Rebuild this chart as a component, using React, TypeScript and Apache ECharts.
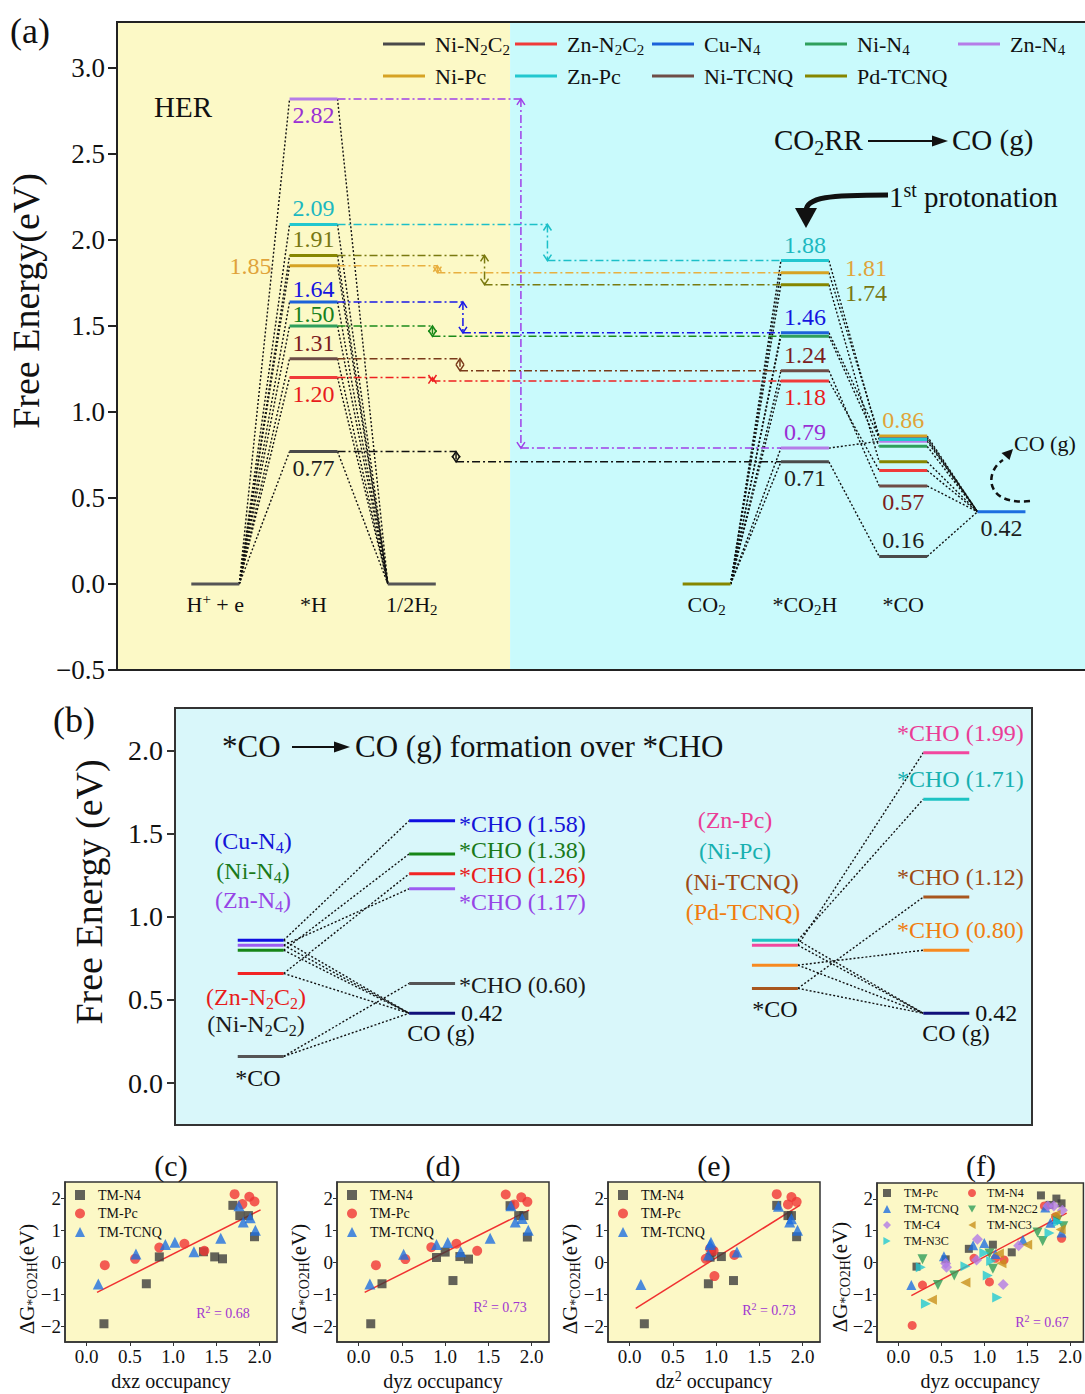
import React, { useEffect, useRef } from 'react';
import * as echarts from 'echarts';

const FONT = '"Liberation Serif", "Times New Roman", serif';

/* ---------------- Panel (a): free energy levels ---------------- */
const materials = ['Ni-N2C2', 'Zn-N2C2', 'Cu-N4', 'Ni-N4', 'Zn-N4', 'Ni-Pc', 'Zn-Pc', 'Ni-TCNQ', 'Pd-TCNQ'];
const herSteps = ['H+ + e', '*H', '1/2H2'];
const herStepX = [0, 1, 2];
const co2rrSteps = ['CO2', '*CO2H', '*CO'];
const co2rrStepX = [5, 6, 7];
const coGasStepX = 8;
const dG_H = [0.77, 1.2, 1.64, 1.5, 2.82, 1.85, 2.09, 1.31, 1.91];
const dG_COOH = [0.71, 1.18, 1.46, 1.44, 0.79, 1.81, 1.88, 1.24, 1.74];
const dG_CO = [0.16, 0.66, 0.85, 0.8, 0.83, 0.86, 0.84, 0.57, 0.71];
const dG_COgas = 0.42;
const yTicksA = [-0.5, 0, 0.5, 1, 1.5, 2, 2.5, 3];

/* ---------------- Panel (b): *CO -> CO(g) vs *CHO ---------------- */
const bLeftNames = ['Cu-N4', 'Ni-N4', 'Zn-N4', 'Zn-N2C2', 'Ni-N2C2'];
const bLeftCO = [0.86, 0.8, 0.83, 0.66, 0.16];
const bLeftCHO = [1.58, 1.38, 1.17, 1.26, 0.6];
const bRightNames = ['Zn-Pc', 'Ni-Pc', 'Ni-TCNQ', 'Pd-TCNQ'];
const bRightCO = [0.83, 0.86, 0.57, 0.71];
const bRightCHO = [1.99, 1.71, 1.12, 0.8];
const bStepX = [1, 2, 4, 5];
const bCOgas = 0.42;
const yTicksB = [0, 0.5, 1, 1.5, 2];

/* ---------------- Panels (c)-(f): scatter ---------------- */
const occTicks = [0, 0.5, 1, 1.5, 2];
const dgTicks = [-2, -1, 0, 1, 2];
const c_N4 = [[0.2, -1.93], [0.69, -0.68], [0.84, 0.16], [1.35, 0.32], [1.48, 0.16], [1.57, 0.1], [1.69, 1.77], [1.77, 1.45], [1.87, 1.45], [1.94, 0.79]];
const c_Pc = [[0.21, -0.1], [0.56, 0.1], [0.84, 0.45], [1.13, 0.57], [1.36, 0.35], [1.71, 2.12], [1.8, 1.81], [1.88, 2.04], [1.94, 1.89]];
const c_TCNQ = [[0.135, -0.69], [0.57, 0.25], [0.91, 0.55], [1.02, 0.62], [1.24, 0.32], [1.55, 0.74], [1.76, 1.76], [1.81, 1.25], [1.89, 1.38], [1.95, 0.99]];
const c_fit = [[0.12, -0.95], [2.01, 1.63]];
const c_R2 = '0.68';

const d_N4 = [[0.14, -1.93], [0.27, -0.68], [0.9, 0.14], [1.0, 0.31], [1.09, -0.58], [1.17, 0.17], [1.27, 0.09], [1.75, 1.76], [1.85, 1.45], [1.91, 1.45], [1.95, 0.78]];
const d_Pc = [[0.2, -0.1], [0.54, 0.09], [0.84, 0.46], [1.13, 0.57], [1.37, 0.35], [1.7, 2.11], [1.8, 1.8], [1.88, 2.02], [1.95, 1.88]];
const d_TCNQ = [[0.13, -0.69], [0.52, 0.24], [0.9, 0.55], [1.03, 0.61], [1.18, 0.32], [1.52, 0.74], [1.76, 1.76], [1.81, 1.25], [1.89, 1.36], [1.96, 0.99]];
const d_fit = [[0.07, -0.95], [1.97, 1.62]];
const d_R2 = '0.73';

const e_N4 = [[0.17, -1.93], [0.91, -0.68], [0.93, 0.15], [0.95, 0.31], [1.06, 0.17], [1.2, -0.58], [1.7, 1.77], [1.83, 1.45], [1.87, 1.45], [1.93, 0.79]];
const e_Pc = [[0.88, 0.1], [0.93, 0.42], [0.97, 0.35], [0.98, -0.44], [1.21, 0.22], [1.7, 2.12], [1.83, 1.8], [1.87, 2.03], [1.93, 1.88]];
const e_TCNQ = [[0.13, -0.7], [0.91, 0.22], [0.93, 0.55], [0.94, 0.62], [1.24, 0.31], [1.72, 1.74], [1.85, 1.25], [1.87, 1.35], [1.94, 0.99]];
const e_fit = [[0.07, -1.45], [1.97, 1.78]];
const e_R2 = '0.73';

const f_Pc = [[0.21, -0.13], [0.55, 0.1], [0.82, 0.43], [1.1, 0.56], [1.32, 0.32], [1.66, 2.11], [1.76, 1.81], [1.84, 2.01], [1.9, 1.86]];
const f_N4 = [[0.16, -1.98], [0.28, -0.71], [0.88, 0.13], [1.06, -0.61], [1.13, 0.13], [1.23, 0.08], [1.7, 1.78], [1.83, 1.44], [1.9, 0.76]];
const f_TCNQ = [[0.15, -0.71], [0.53, 0.2], [0.87, 0.54], [1.0, 0.61], [1.13, 0.27], [1.45, 0.71], [1.71, 1.73], [1.77, 1.25], [1.84, 1.37], [1.9, 0.94]];
const f_N2C2 = [[0.28, 0.1], [0.46, -0.71], [0.65, -0.41], [1.06, 0.28], [1.1, -0.2], [1.62, 0.94], [1.68, 0.68], [1.85, 1.32], [1.92, 1.14]];
const f_C4 = [[0.55, -0.03], [0.56, -0.15], [0.92, 0.73], [0.91, 0.08], [1.22, -0.69], [1.4, 0.53], [1.74, 1.78], [1.81, 1.78], [1.91, 1.64]];
const f_NC3 = [[0.39, -1.17], [0.78, -0.63], [1.17, 0.28], [1.2, -0.02], [1.5, 0.56], [1.83, 1.5], [1.89, 1.04]];
const f_N3C = [[0.26, -0.15], [0.32, -1.3], [0.78, -0.12], [1.0, 0.3], [1.04, -0.41], [1.08, 0.05], [1.15, -1.1], [1.76, 0.93], [1.86, 1.27]];
const f_fit = [[0.15, -1.04], [1.96, 1.55]];
const f_R2 = '0.67';

/* ---------------- styles ---------------- */
const colA = ['#4a4a4a', '#f03a3a', '#1c62da', '#2f9f5c', '#b57ce8', '#d6a324', '#22c7cf', '#6e4d47', '#868600'];
const txtA = ['#1e1e1e', '#e81c1c', '#1515e0', '#18801c', '#9a30d4', '#e0a33a', '#1cb8c0', '#7c1e1e', '#777712'];
const guideCol = ['#111111', '#ee2020', '#1818e8', '#1a8a1a', '#a040e8', '#e8b040', '#1cc0c8', '#7a3a1a', '#7a7a10'];
const guideX = [2.45, 2.21, 2.52, 2.21, 3.11, 2.26, 3.38, 2.49, 2.74];
const lblH = [{ p: 'below' }, { p: 'below' }, { p: 'above', dy: 3 }, { p: 'above', dy: 4 }, { p: 'below' }, { p: 'left', dx: -6 }, { p: 'above' }, { p: 'above' }, { p: 'above' }];
const lblCOOH = [{ p: 'below' }, { p: 'below' }, { p: 'above' }, null, { p: 'above' }, { p: 'right', dx: 4, dy: -5 }, { p: 'above' }, { p: 'above' }, { p: 'right', dx: 4, dy: 8 }];
const lblCO = [{ p: 'above' }, null, null, null, null, { p: 'above' }, null, { p: 'below' }, null];
const legendPosA = [[383, 31], [515, 31], [652, 31], [805, 31], [958, 31], [383, 63], [515, 63], [652, 63], [805, 63]];

const colBL = ['#0f0fe0', '#178617', '#9d5cf2', '#f22424', '#555555'];
const txtBL = ['#1414d8', '#1a7a1a', '#9645e6', '#e81c1c', '#1a1a1a'];
const dyBL = [3, -4, 13, 1, 2];
const colBR = ['#f2479e', '#1dc3c3', '#a8561e', '#f78a20'];
const txtBR = ['#ea3d96', '#17b0b0', '#9c4a14', '#f07d10'];

const HW_A = 0.244;
const HW_B = 0.134;

const rich = (s: string) => s.replace(/H\+/g, 'H{p|+}').replace(/([A-Za-z])(\d)/g, '$1{s|$2}');
const richZr = (fs: number, fill: string) => ({
  s: { fontSize: Math.round(fs * 0.68), lineHeight: Math.round(fs * 0.45), verticalAlign: 'bottom', fontFamily: FONT, fill },
  p: { fontSize: Math.round(fs * 0.68), lineHeight: Math.round(fs * 0.6), verticalAlign: 'top', fontFamily: FONT, fill },
});
const richEc = (fs: number, color: string) => ({
  s: { fontSize: Math.round(fs * 0.68), lineHeight: Math.round(fs * 0.45), verticalAlign: 'bottom', fontFamily: FONT, color },
  p: { fontSize: Math.round(fs * 0.68), lineHeight: Math.round(fs * 0.6), verticalAlign: 'top', fontFamily: FONT, color },
});
const fmt1 = (v: number) => (v < 0 ? '\u2212' : '') + Math.abs(v).toFixed(1);
const fmt0 = (v: number) => (v < 0 ? '\u2212' : '') + Math.abs(v).toFixed(0);

function T(x: number, y: number, text: string, fs: number, fill = '#111', align = 'left', rotation = 0) {
  return {
    type: 'text', x, y, rotation, z: 50, silent: true,
    style: { text, fontSize: fs, fontFamily: FONT, fill, align, verticalAlign: 'middle', lineHeight: Math.round(fs * 1.2), rich: richZr(fs, fill) },
  };
}

function levelSeries(xi: number, yi: number, pts: number[][], hw: number, color: string, lw: number, labels: any[] | null, fs: number, name?: string) {
  return {
    type: 'custom', name, xAxisIndex: xi, yAxisIndex: yi, z: 6, silent: true,
    itemStyle: { color },
    data: pts,
    renderItem: (params: any, api: any) => {
      const x = api.value(0), y = api.value(1);
      const a = api.coord([x - hw, y]);
      const b = api.coord([x + hw, y]);
      const ch: any[] = [{ type: 'line', shape: { x1: a[0], y1: a[1], x2: b[0], y2: b[1] }, style: { stroke: color, lineWidth: lw } }];
      const L = labels ? labels[params.dataIndex] : null;
      if (L) {
        let tx = (a[0] + b[0]) / 2, ty = a[1], align = 'center';
        if (L.p === 'above') ty -= 16;
        else if (L.p === 'below') ty += 16;
        else if (L.p === 'left') { tx = a[0] - 12; align = 'right'; }
        else if (L.p === 'right') { tx = b[0] + 12; align = 'left'; }
        tx += L.dx || 0; ty += L.dy || 0;
        ch.push({ type: 'text', x: tx, y: ty, style: { text: L.text, fill: L.color, fontSize: fs, fontFamily: FONT, align, verticalAlign: 'middle', lineHeight: Math.round(fs * 0.8) } });
      }
      return { type: 'group', children: ch };
    },
  };
}

function connectorSeries(xi: number, yi: number, rows: number[][]) {
  return {
    type: 'custom', xAxisIndex: xi, yAxisIndex: yi, z: 4, silent: true, data: rows,
    renderItem: (params: any, api: any) => {
      const a = api.coord([api.value(0), api.value(1)]);
      const b = api.coord([api.value(2), api.value(3)]);
      return { type: 'line', shape: { x1: a[0], y1: a[1], x2: b[0], y2: b[1] }, style: { stroke: '#111', lineWidth: 1.4, lineDash: [2, 2] } };
    },
  };
}

function mkLabel(spec: any, v: number, color: string) {
  if (!spec) return null;
  return { ...spec, text: v.toFixed(2), color };
}

function buildOption() {
  const series: any[] = [];

  /* ---- (a) background halves ---- */
  series.push({
    type: 'line', xAxisIndex: 0, yAxisIndex: 0, data: [[-1, -0.5]], symbol: 'none', silent: true, z: 1,
    lineStyle: { opacity: 0 },
    markArea: {
      silent: true,
      data: [
        [{ xAxis: -1, itemStyle: { color: '#fcf9c6' } }, { xAxis: 3 }],
        [{ xAxis: 3, itemStyle: { color: '#c9fafc' } }, { xAxis: 8.85 }],
      ],
    },
  });

  /* ---- (a) connectors ---- */
  const connA: number[][] = [];
  materials.forEach((_, i) => {
    connA.push([herStepX[0] + HW_A, 0, herStepX[1] - HW_A, dG_H[i]]);
    connA.push([herStepX[1] + HW_A, dG_H[i], herStepX[2] - HW_A, 0]);
    connA.push([co2rrStepX[0] + HW_A, 0, co2rrStepX[1] - HW_A, dG_COOH[i]]);
    connA.push([co2rrStepX[1] + HW_A, dG_COOH[i], co2rrStepX[2] - HW_A, dG_CO[i]]);
    connA.push([co2rrStepX[2] + HW_A, dG_CO[i], coGasStepX - HW_A, dG_COgas]);
  });
  series.push(connectorSeries(0, 0, connA));

  /* ---- (a) dash-dot guides with double arrows ---- */
  series.push({
    type: 'custom', xAxisIndex: 0, yAxisIndex: 0, z: 5, silent: true,
    data: materials.map((_, i) => [herStepX[1] + HW_A, dG_H[i], guideX[i], dG_COOH[i], co2rrStepX[1] - HW_A]),
    renderItem: (params: any, api: any) => {
      const col = guideCol[params.dataIndex];
      const p0 = api.coord([api.value(0), api.value(1)]);
      const pa = api.coord([api.value(2), api.value(1)]);
      const pc = api.coord([api.value(2), api.value(3)]);
      const p1 = api.coord([api.value(4), api.value(3)]);
      const st = { stroke: col, lineWidth: 1.5, lineDash: [8, 3, 2, 3] };
      const h = 6, w = 4;
      const up = pa[1] < pc[1] ? 1 : -1;
      return {
        type: 'group',
        children: [
          { type: 'line', shape: { x1: p0[0], y1: p0[1], x2: pa[0], y2: pa[1] }, style: st },
          { type: 'line', shape: { x1: pa[0], y1: pa[1], x2: pc[0], y2: pc[1] }, style: st },
          { type: 'line', shape: { x1: pc[0], y1: pc[1], x2: p1[0], y2: p1[1] }, style: st },
          { type: 'polyline', shape: { points: [[pa[0] - w, pa[1] + up * h], [pa[0], pa[1]], [pa[0] + w, pa[1] + up * h]] }, style: { stroke: col, lineWidth: 1.5, fill: 'none' } },
          { type: 'polyline', shape: { points: [[pc[0] - w, pc[1] - up * h], [pc[0], pc[1]], [pc[0] + w, pc[1] - up * h]] }, style: { stroke: col, lineWidth: 1.5, fill: 'none' } },
        ],
      };
    },
  });

  /* ---- (a) common levels ---- */
  series.push(levelSeries(0, 0, [[herStepX[0], 0], [herStepX[2], 0]], HW_A, '#555555', 3, null, 24));
  series.push(levelSeries(0, 0, [[co2rrStepX[0], 0]], HW_A, '#868600', 3, null, 24));
  series.push(levelSeries(0, 0, [[coGasStepX, dG_COgas]], HW_A, '#1c6ee0', 3, [{ p: 'below', text: dG_COgas.toFixed(2), color: '#1e1e1e' }], 24));

  /* ---- (a) material levels ---- */
  materials.forEach((m, i) => {
    series.push(levelSeries(0, 0,
      [[herStepX[1], dG_H[i]], [co2rrStepX[1], dG_COOH[i]], [co2rrStepX[2], dG_CO[i]]],
      HW_A, colA[i], 3,
      [mkLabel(lblH[i], dG_H[i], txtA[i]), mkLabel(lblCOOH[i], dG_COOH[i], txtA[i]), mkLabel(lblCO[i], dG_CO[i], txtA[i])],
      24, m));
  });

  /* ---- (a) step labels ---- */
  const stepNames = herSteps.concat(co2rrSteps);
  series.push({
    type: 'custom', xAxisIndex: 0, yAxisIndex: 0, z: 6, silent: true,
    data: herStepX.concat(co2rrStepX).map((x) => [x, 0]),
    renderItem: (params: any, api: any) => {
      const p = api.coord([api.value(0), api.value(1)]);
      return {
        type: 'text', x: p[0], y: p[1] + 21,
        style: { text: rich(stepNames[params.dataIndex]), fontSize: 22, fontFamily: FONT, fill: '#111', align: 'center', verticalAlign: 'middle', lineHeight: 26, rich: richZr(22, '#111') },
      };
    },
  });

  /* ---- (b) ---- */
  const connB: number[][] = [];
  bLeftNames.forEach((_, i) => {
    connB.push([bStepX[0] + HW_B, bLeftCO[i], bStepX[1] - HW_B, bLeftCHO[i]]);
    connB.push([bStepX[0] + HW_B, bLeftCO[i], bStepX[1] - HW_B, bCOgas]);
  });
  bRightNames.forEach((_, i) => {
    connB.push([bStepX[2] + HW_B, bRightCO[i], bStepX[3] - HW_B, bRightCHO[i]]);
    connB.push([bStepX[2] + HW_B, bRightCO[i], bStepX[3] - HW_B, bCOgas]);
  });
  series.push(connectorSeries(1, 1, connB));
  bLeftNames.forEach((_, i) => {
    series.push(levelSeries(1, 1, [[bStepX[0], bLeftCO[i]], [bStepX[1], bLeftCHO[i]]], HW_B, colBL[i], 3,
      [null, { p: 'right', dx: -8, dy: dyBL[i], text: '*CHO (' + bLeftCHO[i].toFixed(2) + ')', color: txtBL[i] }], 24));
  });
  bRightNames.forEach((_, i) => {
    series.push(levelSeries(1, 1, [[bStepX[2], bRightCO[i]], [bStepX[3], bRightCHO[i]]], HW_B, colBR[i], 3,
      [null, { p: 'above', dx: 14, dy: -4, text: '*CHO (' + bRightCHO[i].toFixed(2) + ')', color: txtBR[i] }], 24));
  });
  series.push(levelSeries(1, 1, [[bStepX[1], bCOgas], [bStepX[3], bCOgas]], HW_B, '#10107a', 3,
    [{ p: 'right', dx: -6, text: bCOgas.toFixed(2), color: '#111' }, { p: 'right', dx: -6, text: bCOgas.toFixed(2), color: '#111' }], 24));

  /* ---- (c)-(f) scatter ---- */
  const sq = { symbol: 'rect', symbolSize: 9, itemStyle: { color: '#3c3c3c' } };
  const ci = { symbol: 'circle', symbolSize: 10, itemStyle: { color: '#f03535' } };
  const tr = { symbol: 'triangle', symbolSize: 11, itemStyle: { color: '#1f6fe0' } };
  const fitLine = (k: number, d: number[][]) => ({ type: 'line', xAxisIndex: k, yAxisIndex: k, data: d, symbol: 'none', silent: true, z: 2, lineStyle: { color: '#f03030', width: 1.5 } });
  const sc = (k: number, name: string, d: number[][], sty: any) => ({ type: 'scatter', name, xAxisIndex: k, yAxisIndex: k, data: d, z: 3, silent: true, ...sty });
  series.push(fitLine(2, c_fit), sc(2, 'TM-N4', c_N4, sq), sc(2, 'TM-Pc', c_Pc, ci), sc(2, 'TM-TCNQ', c_TCNQ, tr));
  series.push(fitLine(3, d_fit), sc(3, 'TM-N4', d_N4, sq), sc(3, 'TM-Pc', d_Pc, ci), sc(3, 'TM-TCNQ', d_TCNQ, tr));
  series.push(fitLine(4, e_fit), sc(4, 'TM-N4', e_N4, sq), sc(4, 'TM-Pc', e_Pc, ci), sc(4, 'TM-TCNQ', e_TCNQ, tr));
  series.push(
    fitLine(5, f_fit),
    sc(5, 'TM-Pc', f_Pc, { symbol: 'rect', symbolSize: 8, itemStyle: { color: '#3c3c3c' } }),
    sc(5, 'TM-N4', f_N4, { symbol: 'circle', symbolSize: 9, itemStyle: { color: '#f03535' } }),
    sc(5, 'TM-TCNQ', f_TCNQ, { symbol: 'triangle', symbolSize: 10, itemStyle: { color: '#1f6fe0' } }),
    sc(5, 'TM-N2C2', f_N2C2, { symbol: 'path://M0,0L10,0L5,9Z', symbolSize: 10, itemStyle: { color: '#2e9e5a' } }),
    sc(5, 'TM-C4', f_C4, { symbol: 'diamond', symbolSize: 11, itemStyle: { color: '#b27ae6' } }),
    sc(5, 'TM-NC3', f_NC3, { symbol: 'path://M0,5L9,0L9,10Z', symbolSize: 10, itemStyle: { color: '#c8901a' } }),
    sc(5, 'TM-N3C', f_N3C, { symbol: 'path://M0,0L9,5L0,10Z', symbolSize: 10, itemStyle: { color: '#22c8d2' } }),
  );

  /* ---- axes ---- */
  const smallGrids = [
    { left: 65, top: 1182, width: 212, height: 170 },
    { left: 337, top: 1182, width: 212, height: 170 },
    { left: 608, top: 1182, width: 212, height: 170 },
    { left: 877, top: 1183, width: 208, height: 164 },
  ];
  const grid: any[] = [
    { left: 117, top: 22, width: 968, height: 648, show: false },
    { left: 175, top: 708, width: 857, height: 417, show: true, backgroundColor: '#d9f7fa', borderColor: '#333', borderWidth: 2 },
    ...smallGrids.map((g) => ({ ...g, show: true, backgroundColor: '#fcf8c6', borderColor: '#333', borderWidth: 1.5 })),
  ];
  const xNames = ['dxz occupancy', 'dyz occupancy', 'dz{p|2} occupancy', 'dyz occupancy'];
  const xAxis: any[] = [
    { gridIndex: 0, type: 'value', min: -1, max: 8.85, show: false },
    { gridIndex: 1, type: 'value', min: 0.5, max: 5.5, show: false },
    ...xNames.map((n, k) => ({
      gridIndex: k + 2, type: 'value', min: -0.25, max: k === 3 ? 2.155 : 2.2,
      axisLine: { show: true, onZero: false, lineStyle: { color: '#333', width: 1.5 } },
      axisTick: { show: true, length: 4, customValues: occTicks, lineStyle: { color: '#333' } },
      axisLabel: { customValues: occTicks, formatter: (v: number) => v.toFixed(1), fontSize: 19, fontFamily: FONT, color: '#111', margin: 5 },
      splitLine: { show: false },
      name: n, nameLocation: 'middle', nameGap: 27,
      nameTextStyle: { fontSize: 20, fontFamily: FONT, color: '#111', lineHeight: 24, rich: richEc(20, '#111') },
    })),
  ];
  const yAxis: any[] = [
    {
      gridIndex: 0, type: 'value', min: -0.5, max: 3.267,
      axisLine: { show: true, onZero: false, lineStyle: { color: '#222', width: 2 } },
      axisTick: { show: true, length: 9, customValues: yTicksA, lineStyle: { color: '#222', width: 2 } },
      axisLabel: { customValues: yTicksA, formatter: fmt1, fontSize: 27, fontFamily: FONT, color: '#111', margin: 12 },
      splitLine: { show: false },
    },
    {
      gridIndex: 1, type: 'value', min: -0.253, max: 2.259,
      axisLine: { show: true, onZero: false, lineStyle: { color: '#333', width: 2 } },
      axisTick: { show: true, length: 8, customValues: yTicksB, lineStyle: { color: '#333', width: 2 } },
      axisLabel: { customValues: yTicksB, formatter: fmt1, fontSize: 28, fontFamily: FONT, color: '#111', margin: 12 },
      splitLine: { show: false },
    },
    ...smallGrids.map((g, k) => ({
      gridIndex: k + 2, type: 'value', min: -2.5, max: 2.5,
      axisLine: { show: true, onZero: false, lineStyle: { color: '#333', width: 1.5 } },
      axisTick: { show: true, length: 4, customValues: dgTicks, lineStyle: { color: '#333' } },
      axisLabel: { customValues: dgTicks, formatter: fmt0, fontSize: 19, fontFamily: FONT, color: '#111', margin: 4 },
      splitLine: { show: false },
    })),
  ];

  /* ---- legends ---- */
  const legend: any[] = materials.map((m, i) => ({
    left: legendPosA[i][0], top: legendPosA[i][1], padding: 0, orient: 'horizontal',
    itemWidth: 42, itemHeight: 3, icon: 'rect', selectedMode: false,
    data: [{ name: m, icon: 'rect', itemStyle: { color: colA[i] } }],
    formatter: (n: string) => rich(n),
    textStyle: { fontSize: 22, fontFamily: FONT, color: '#111', lineHeight: 26, padding: [0, 0, 0, 5], rich: richEc(22, '#111') },
  }));
  const basicItems = [
    { name: 'TM-N4', icon: 'rect', itemStyle: { color: '#3c3c3c' } },
    { name: 'TM-Pc', icon: 'circle', itemStyle: { color: '#f03535' } },
    { name: 'TM-TCNQ', icon: 'triangle', itemStyle: { color: '#1f6fe0' } },
  ];
  smallGrids.slice(0, 3).forEach((g) => {
    legend.push({
      left: g.left + 10, top: 1188, orient: 'vertical', padding: 0, itemGap: 4.5, itemWidth: 10, itemHeight: 10, selectedMode: false,
      data: basicItems,
      textStyle: { fontSize: 14, fontFamily: FONT, color: '#111', lineHeight: 13, padding: [0, 0, 0, 8] },
    });
  });
  legend.push({
    left: 883, top: 1187, orient: 'vertical', padding: 0, itemGap: 4, itemWidth: 8, itemHeight: 8, selectedMode: false,
    data: [
      { name: 'TM-Pc', icon: 'rect', itemStyle: { color: '#3c3c3c' } },
      { name: 'TM-TCNQ', icon: 'triangle', itemStyle: { color: '#1f6fe0' } },
      { name: 'TM-C4', icon: 'diamond', itemStyle: { color: '#b27ae6' } },
      { name: 'TM-N3C', icon: 'path://M0,0L9,5L0,10Z', itemStyle: { color: '#22c8d2' } },
    ],
    textStyle: { fontSize: 12, fontFamily: FONT, color: '#111', lineHeight: 10, padding: [0, 0, 0, 8] },
  });
  legend.push({
    left: 968, top: 1187, orient: 'vertical', padding: 0, itemGap: 4, itemWidth: 8, itemHeight: 8, selectedMode: false,
    data: [
      { name: 'TM-N4', icon: 'circle', itemStyle: { color: '#f03535' } },
      { name: 'TM-N2C2', icon: 'path://M0,0L10,0L5,9Z', itemStyle: { color: '#2e9e5a' } },
      { name: 'TM-NC3', icon: 'path://M0,5L9,0L9,10Z', itemStyle: { color: '#c8901a' } },
    ],
    textStyle: { fontSize: 12, fontFamily: FONT, color: '#111', lineHeight: 10, padding: [0, 0, 0, 6] },
  });

  /* ---- graphic annotations ---- */
  const ROT = Math.PI / 2;
  const dgTitle = '\u0394G{s|*CO2H}(eV)';
  const graphic: any[] = [
    { type: 'rect', z: 100, silent: true, shape: { x: 117, y: 22, width: 990, height: 648 }, style: { fill: 'none', stroke: '#222', lineWidth: 2 } },
    T(10, 31, '(a)', 36),
    T(53, 720, '(b)', 36),
    T(26, 301, 'Free Energy(eV)', 38, '#111', 'center', ROT),
    T(89, 892, 'Free Energy (eV)', 38, '#111', 'center', ROT),
    T(154, 107, 'HER', 29),
    T(774, 140, 'CO{s|2}RR', 29),
    { type: 'line', z: 50, shape: { x1: 868, y1: 141, x2: 938, y2: 141 }, style: { stroke: '#111', lineWidth: 2 } },
    { type: 'polygon', z: 50, shape: { points: [[932, 135.5], [948, 141], [932, 146.5]] }, style: { fill: '#111' } },
    T(952, 140, 'CO (g)', 29),
    T(889, 197, '1{p|st} protonation', 29),
    { type: 'bezierCurve', z: 50, shape: { x1: 888, y1: 195, cpx1: 830, cpy1: 195, cpx2: 806, cpy2: 197, x2: 806, y2: 211 }, style: { stroke: '#111', lineWidth: 5, fill: 'none' } },
    { type: 'polygon', z: 50, shape: { points: [[795, 208], [817, 208], [806, 228]] }, style: { fill: '#111' } },
    T(1014, 443, 'CO (g)', 22),
    { type: 'bezierCurve', z: 50, shape: { x1: 1030, y1: 501, cpx1: 985, cpy1: 506, cpx2: 984, cpy2: 472, x2: 1003, y2: 460 }, style: { stroke: '#111', lineWidth: 2.5, fill: 'none', lineDash: [6, 4] } },
    { type: 'polygon', z: 50, shape: { points: [[1013, 449], [1009.5, 460], [1001.5, 453]] }, style: { fill: '#111' } },
    // panel (b)
    T(222, 746, '*CO', 31),
    { type: 'line', z: 50, shape: { x1: 292, y1: 747, x2: 340, y2: 747 }, style: { stroke: '#111', lineWidth: 2 } },
    { type: 'polygon', z: 50, shape: { points: [[334, 741.5], [350, 747], [334, 752.5]] }, style: { fill: '#111' } },
    T(355, 746, 'CO (g) formation over *CHO', 31),
    T(253, 841, '(Cu-N{s|4})', 24, '#1414d8', 'center'),
    T(253, 871, '(Ni-N{s|4})', 24, '#1a7a1a', 'center'),
    T(253, 900, '(Zn-N{s|4})', 24, '#9645e6', 'center'),
    T(256, 997, '(Zn-N{s|2}C{s|2})', 24, '#e81c1c', 'center'),
    T(256, 1024, '(Ni-N{s|2}C{s|2})', 24, '#1a1a1a', 'center'),
    T(258, 1078, '*CO', 24, '#111', 'center'),
    T(441, 1033, 'CO (g)', 24, '#111', 'center'),
    T(735, 820, '(Zn-Pc)', 24, '#ea3d96', 'center'),
    T(735, 851, '(Ni-Pc)', 24, '#17b0b0', 'center'),
    T(742, 882, '(Ni-TCNQ)', 24, '#9c4a14', 'center'),
    T(743, 912, '(Pd-TCNQ)', 24, '#f07d10', 'center'),
    T(775, 1009, '*CO', 24, '#111', 'center'),
    T(956, 1033, 'CO (g)', 24, '#111', 'center'),
    // small panels
    T(171, 1165, '(c)', 30, '#111', 'center'),
    T(443, 1165, '(d)', 30, '#111', 'center'),
    T(714, 1165, '(e)', 30, '#111', 'center'),
    T(981, 1165, '(f)', 30, '#111', 'center'),
    T(27, 1279, dgTitle, 21, '#111', 'center', ROT),
    T(299, 1279, dgTitle, 21, '#111', 'center', ROT),
    T(570, 1279, dgTitle, 21, '#111', 'center', ROT),
    T(840, 1277, dgTitle, 21, '#111', 'center', ROT),
    T(223, 1313, 'R{p|2} = ' + c_R2, 14, '#a035d0', 'center'),
    T(500, 1307, 'R{p|2} = ' + d_R2, 14, '#a035d0', 'center'),
    T(769, 1310, 'R{p|2} = ' + e_R2, 14, '#a035d0', 'center'),
    T(1042, 1322, 'R{p|2} = ' + f_R2, 14, '#a035d0', 'center'),
  ];

  return {
    animation: false,
    backgroundColor: '#ffffff',
    textStyle: { fontFamily: FONT },
    grid, xAxis, yAxis, legend, series, graphic,
  };
}

export default function App() {
  const ref = useRef<HTMLDivElement>(null);
  useEffect(() => {
    document.body.style.margin = '0';
    const chart = echarts.init(ref.current as HTMLDivElement, null, { renderer: 'svg' });
    chart.setOption(buildOption() as any);
    return () => chart.dispose();
  }, []);
  return <div ref={ref} style={{ position: 'absolute', left: 0, top: 0, width: 1085, height: 1394 }} />;
}
